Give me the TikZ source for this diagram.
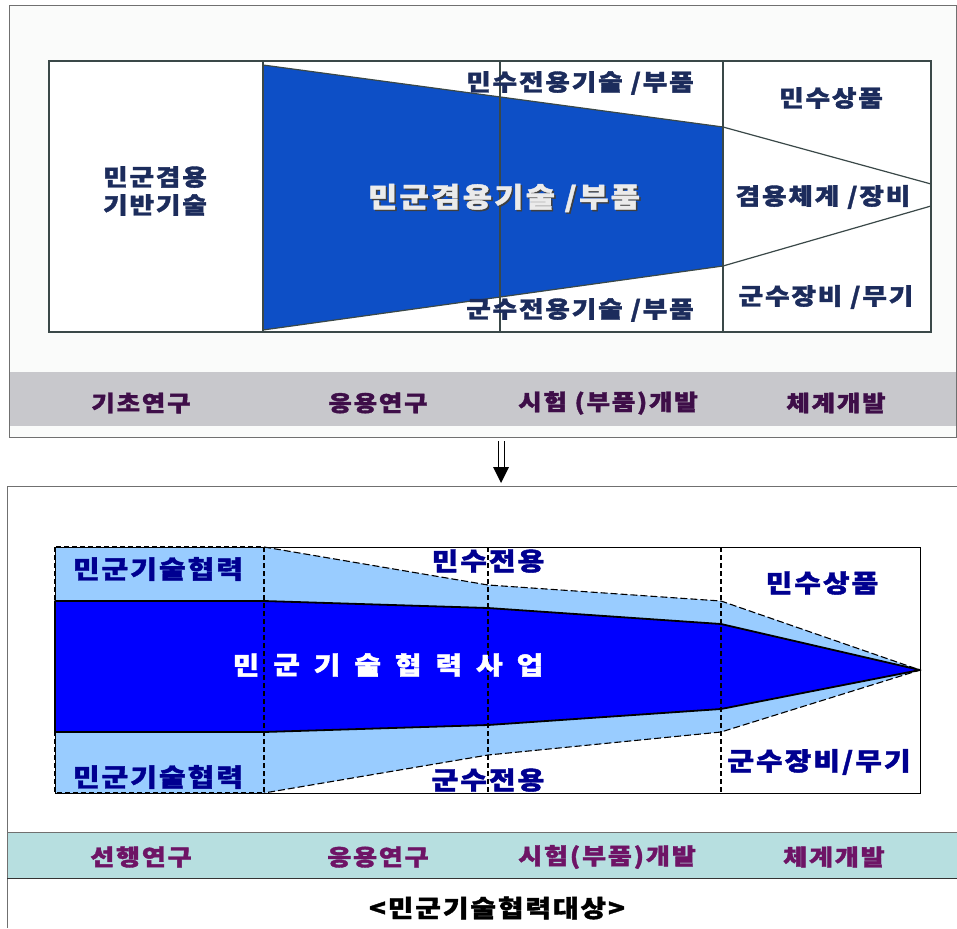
\documentclass[tikz,border=0pt]{standalone}
\usepackage{fontspec}
\setmainfont{Noto Sans CJK KR}[FakeStretch=1.16, LetterSpace=8, BoldFeatures={FakeBold=1.6}]
\usetikzlibrary{arrows.meta}
\definecolor{topblue}{HTML}{0D4FC6}
\definecolor{topline}{HTML}{3A4848}
\definecolor{toptext}{HTML}{1C2C5C}
\definecolor{topband}{HTML}{C8C8CC}
\definecolor{topbandtext}{HTML}{3E0E48}
\definecolor{darkblue}{HTML}{0000FF}
\definecolor{lightblue}{HTML}{99CCFF}
\definecolor{navy}{HTML}{000090}
\definecolor{bandteal}{HTML}{B7DFE0}
\definecolor{bandpurple}{HTML}{6E1466}
\definecolor{framegray}{HTML}{707070}
\tikzset{
  x=1pt, y=-1pt,
  toplbl/.style={font=\bfseries\fontsize{23}{27}\selectfont, text=toptext, inner sep=0pt},
  topbandlbl/.style={font=\bfseries\fontsize{22}{26}\selectfont, text=topbandtext, inner sep=0pt},
  botlbl/.style={font=\bfseries\fontsize{25}{29}\selectfont, text=navy, inner sep=0pt},
  botbandlbl/.style={font=\bfseries\fontsize{22.5}{26}\selectfont, text=bandpurple, inner sep=0pt},
  whitelbl/.style={font=\bfseries\fontsize{25}{29}\selectfont, text=white, inner sep=0pt},
  dashline/.style={dashed, dash pattern=on 5pt off 3pt, line width=1.4pt, draw=black},
}
\begin{document}
\begin{tikzpicture}
\useasboundingbox (0,0) rectangle (957,928);
\fill[white] (0,0) rectangle (957,928);
% ===== top panel =====
\draw[framegray, line width=1pt, fill={rgb,255:red,250;green,251;blue,250}] (9,6) rectangle (956,437);
\fill[topband] (9.5,372) rectangle (956,426);
% inner box
\fill[white] (49,61) rectangle (931,332);
\fill[topblue] (263,65) -- (723,127) -- (723,266) -- (263,330) -- cycle;
\draw[topline, line width=1.6pt] (49,61) rectangle (931,332);
\draw[topline, line width=1.6pt] (263,61) -- (263,332);
\draw[topline, line width=1.6pt] (500,61) -- (500,332);
\draw[topline, line width=1.6pt] (723,61) -- (723,332);
\draw[topline, line width=1.2pt] (263,65) -- (723,127) -- (931,184);
\draw[topline, line width=1.2pt] (263,330) -- (723,266) -- (931,206);
% top texts
\node[toplbl, align=center] (basetech) at (155,191) {민군겸용\\[1pt]기반기술};
\node[toplbl] (civonly) at (580,83) {민수전용기술 /부품};
\node[toplbl] (milonly) at (580,310) {군수전용기술 /부품};
\node[toplbl] (civprod) at (831,98) {민수상품};
\node[toplbl] (dualsys) at (823,197) {겸용체계 /장비};
\node[toplbl] (milequip) at (826,297) {군수장비 /무기};
\node[font=\bfseries\fontsize{27.5}{31}\selectfont, text=black!75, inner sep=0pt] at (505.5,199.5) {민군겸용기술 /부품};
\node[font=\bfseries\fontsize{27.5}{31}\selectfont, text=white!92!black, inner sep=0pt] (dualtech) at (504,198) {민군겸용기술 /부품};
\node[topbandlbl] (s1) at (141,403) {기초연구};
\node[topbandlbl] (s2) at (378,403) {응용연구};
\node[topbandlbl] (s3) at (608,403) {시험 (부품)개발};
\node[topbandlbl] (s4) at (836,403) {체계개발};
% ===== arrow =====
\coordinate (arrtop) at (501,441);
\coordinate (arrtip) at (501,483);
\draw[black, line width=1pt] (498,441) -- (498,470);
\draw[black, line width=1pt] (504,441) -- (504,470);
\fill[black] (493,467) -- (509,467) -- (arrtip) -- cycle;
% ===== bottom panel =====
\draw[framegray, line width=1pt] (7,928) -- (7,486) -- (957,486);
\fill[lightblue] (55,547) -- (264,547) -- (488,585) -- (721,601) -- (920,670) -- (721,732) -- (488,755) -- (264,793) -- (55,793) -- cycle;
\draw[black, line width=1pt] (55,547) rectangle (920,793);
\draw[fill=darkblue, draw=black, line width=1.8pt, line join=round] (55,601) -- (264,601) -- (488,608) -- (721,624) -- (920,670) -- (721,709) -- (488,725) -- (264,732) -- (55,732) -- cycle;
\draw[dashline, line width=1.8pt] (55,547) rectangle (264,793);
\draw[dashline] (488,547) -- (488,793);
\draw[dashline] (721,547) -- (721,793);
\draw[dashed, dash pattern=on 7pt off 3pt, line width=1.1pt] (264,547) -- (488,585) -- (721,601) -- (920,670) -- (721,732) -- (488,755) -- (264,793);
% bottom texts
\node[botlbl] (coopA) at (158,569) {민군기술협력};
\node[botlbl] (coopB) at (158,777) {민군기술협력};
\node[botlbl] (civuse) at (488,561) {민수전용};
\node[botlbl] (miluse) at (488,780) {군수전용};
\node[botlbl] (civprod2) at (822,583) {민수상품};
\node[botlbl] (milequip2) at (819,762) {군수장비/무기};
\foreach \g [count=\i from 0] in {민,군,기,술,협,력,사,업}
  \node[whitelbl] (c\i) at (246+40.57*\i,665) {\g};
% bottom band
\fill[bandteal] (7.5,832) rectangle (957,878);
\draw[framegray, line width=1pt] (7,832) -- (957,832);
\draw[black!80, line width=1pt] (7,878) -- (957,878);
\node[botbandlbl] (b1) at (141,857) {선행연구};
\node[botbandlbl] (b2) at (378,857) {응용연구};
\node[botbandlbl] (b3) at (607,857) {시험(부품)개발};
\node[botbandlbl] (b4) at (834,857) {체계개발};
\node[font=\bfseries\fontsize{24}{28}\selectfont, inner sep=0pt] (caption) at (497,908) {<민군기술협력대상>};
\end{tikzpicture}
\end{document}
